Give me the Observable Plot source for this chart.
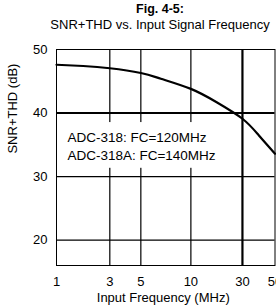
<!DOCTYPE html>
<html>
<head>
<meta charset="utf-8">
<script src="https://cdn.jsdelivr.net/npm/d3@7"></script>
<script src="https://cdn.jsdelivr.net/npm/@observablehq/plot@0.6"></script>
<style>
  html, body { margin: 0; padding: 0; background: #fff; width: 276px; height: 308px; overflow: hidden; }
  #title { font-family: "Liberation Sans", Arial, sans-serif; text-align: center; color: #000; position: relative; left: 22px; width: 276px; height: 33px; }
  #title .t1 { font-weight: bold; font-size: 12.5px; line-height: 14px; padding-top: 2px; }
  #title .t2 { font-size: 13px; line-height: 16px; margin-top: 1px; }
</style>
</head>
<body>
<div id="title"><div class="t1"></div><div class="t2"></div></div>
<div id="chart"></div>
<script>
const titleText = "Fig. 4-5:";
const subtitleText = "SNR+THD vs. Input Signal Frequency";
const xTicks = [1, 3, 5, 10, 30, 50];
const yTicks = [20, 30, 40, 50];
const freq = [1, 2, 3, 5, 7, 10, 20, 30, 40, 50];
const snrThd = [47.6, 47.4, 47.05, 46.3, 45.4, 43.8, 41.7, 39.1, 36.5, 33.6];
const legendLines = ["ADC-318: FC=120MHz", "ADC-318A: FC=140MHz"];
const xLabel = "Input Frequency (MHz)";
const yLabel = "SNR+THD (dB)";

document.querySelector("#title .t1").textContent = titleText;
document.querySelector("#title .t2").textContent = subtitleText;

const data = freq.map((f, i) => ({f, v: snrThd[i]}));

const W = 276, H = 275;
const mL = 56, mR = 1.5, mT = 16, mB = 43;
const left = mL, right = W - mR;
// uneven grid spacing of the original sheet (fraction of plot width per tick)
const xFrac = [0, 0.244, 0.386, 0.615, 0.851, 1];

const font = "'Liberation Sans', Arial, sans-serif";

const chart = Plot.plot({
  width: W,
  height: H,
  marginLeft: mL,
  marginRight: mR,
  marginTop: mT,
  marginBottom: mB,
  style: {fontFamily: font, fontSize: "13px", color: "#000", background: "#fff", overflow: "visible"},
  x: {type: "linear", domain: xTicks, range: xFrac.map(p => left + p * (right - left))},
  y: {domain: [16, 50]},
  marks: [
    Plot.ruleY([20, 30], {stroke: "#000", strokeWidth: 1.2}),
    Plot.ruleY([40], {stroke: "#000", strokeWidth: 2}),
    Plot.ruleX([3, 5, 10], {stroke: "#000", strokeWidth: 1.2}),
    Plot.ruleX([30], {stroke: "#000", strokeWidth: 2.2}),
    Plot.frame({stroke: "#000", strokeWidth: 1}),
    // white box behind the note text
    Plot.rect([0], {x1: 1.05, x2: 20, y1: 31.3, y2: 38.5, fill: "#fff"}),
    Plot.text(legendLines, {x: 1.41, y: (d, i) => [36.1, 33.3][i], text: d => d, textAnchor: "start", fontSize: 13.5, fill: "#000"}),
    Plot.line(data, {x: "f", y: "v", curve: "natural", stroke: "#000", strokeWidth: 2.2}),
    Plot.axisY(yTicks, {tickSize: 0, tickPadding: 9, fontSize: 13, label: null}),
    Plot.axisX(xTicks, {tickSize: 0, tickPadding: 11, fontSize: 13, label: null, tickFormat: d => String(d)}),
    Plot.text([xLabel], {frameAnchor: "bottom", dy: 36, dx: -2.5, fontSize: 13, fill: "#000"}),
    Plot.text([yLabel], {y: [40.7], frameAnchor: "left", textAnchor: "middle", dx: -44, rotate: -90, fontSize: 13, fill: "#000"})
  ]
});
document.getElementById("chart").appendChild(chart);
</script>
</body>
</html>
